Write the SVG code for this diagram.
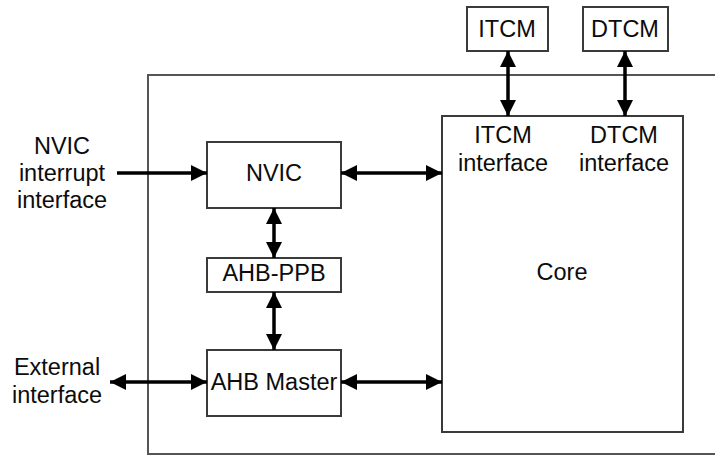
<svg xmlns="http://www.w3.org/2000/svg" width="715" height="457" viewBox="0 0 715 457">
  <style>
    .box { fill: #fff; stroke: #3a3a3a; stroke-width: 2; }
    .frame { fill: none; stroke: #555; stroke-width: 2; }
    .lbl { font-family: "Liberation Sans", Arial, sans-serif; font-size: 23.5px; fill: #0c0c0c; text-anchor: middle; }
    .link { stroke: #000; stroke-width: 3.5; fill: none; }
  </style>
  <defs>
    <marker id="head" markerUnits="userSpaceOnUse" markerWidth="16" markerHeight="16" viewBox="0 0 16 16" refX="16" refY="8" orient="auto-start-reverse">
      <path d="M0,0 L16,8 L0,16 z" fill="#000"/>
    </marker>
  </defs>
  <rect width="715" height="457" fill="#fff"/>

  <!-- processor boundary, open on the right -->
  <path class="frame" d="M715,75 H148 V454 H715"/>

  <g id="itcm">
    <rect class="box" x="467" y="7" width="81" height="44"/>
    <text class="lbl" x="507" y="37">ITCM</text>
  </g>
  <g id="dtcm">
    <rect class="box" x="583" y="7" width="85" height="44"/>
    <text class="lbl" x="625" y="37">DTCM</text>
  </g>
  <g id="core">
    <rect class="box" x="442" y="116" width="241" height="316"/>
    <text class="lbl" x="503" y="143">ITCM</text>
    <text class="lbl" x="503" y="171">interface</text>
    <text class="lbl" x="624" y="143">DTCM</text>
    <text class="lbl" x="624" y="171">interface</text>
    <text class="lbl" x="562" y="280">Core</text>
  </g>
  <g id="nvic">
    <rect class="box" x="207" y="142" width="134" height="66"/>
    <text class="lbl" x="274" y="181">NVIC</text>
  </g>
  <g id="ahb-ppb">
    <rect class="box" x="207" y="258" width="134" height="34"/>
    <text class="lbl" x="274" y="281">AHB-PPB</text>
  </g>
  <g id="ahb-master">
    <rect class="box" x="207" y="350" width="134" height="66"/>
    <text class="lbl" x="274" y="390">AHB Master</text>
  </g>
  <g id="nvic-irq-label">
    <text class="lbl" x="62" y="154">NVIC</text>
    <text class="lbl" x="62" y="181">interrupt</text>
    <text class="lbl" x="62" y="208">interface</text>
  </g>
  <g id="external-label">
    <text class="lbl" x="57" y="375">External</text>
    <text class="lbl" x="57" y="403">interface</text>
  </g>

  <g id="connectors">
    <line class="link" x1="508" y1="51" x2="508" y2="116" marker-start="url(#head)" marker-end="url(#head)"/>
    <line class="link" x1="625" y1="51" x2="625" y2="116" marker-start="url(#head)" marker-end="url(#head)"/>
    <line class="link" x1="117" y1="173" x2="207" y2="173" marker-end="url(#head)"/>
    <line class="link" x1="341" y1="173" x2="442" y2="173" marker-start="url(#head)" marker-end="url(#head)"/>
    <line class="link" x1="274" y1="208" x2="274" y2="258" marker-start="url(#head)" marker-end="url(#head)"/>
    <line class="link" x1="274" y1="292" x2="274" y2="350" marker-start="url(#head)" marker-end="url(#head)"/>
    <line class="link" x1="110" y1="382" x2="207" y2="382" marker-start="url(#head)" marker-end="url(#head)"/>
    <line class="link" x1="341" y1="382" x2="442" y2="382" marker-start="url(#head)" marker-end="url(#head)"/>
  </g>
</svg>
